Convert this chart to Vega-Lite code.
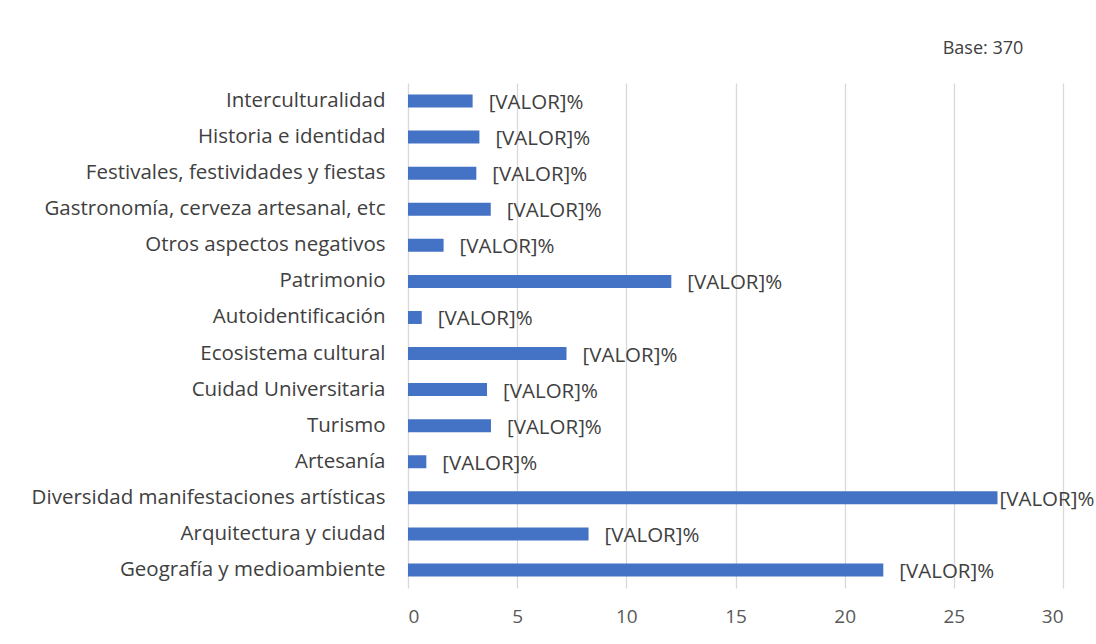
{
  "$schema": "https://vega.github.io/schema/vega-lite/v6.json",
  "autosize": "none",
  "padding": {"left": 408, "top": 83, "right": 33, "bottom": 56},
  "width": 655,
  "height": 505,
  "background": "white",
  "title": {"text": "Base: 370", "anchor": "end", "dx": -71, "offset": 25, "fontSize": 18, "fontWeight": "normal", "color": "#404040", "font": "Open Sans"},
  "data": {"values": [
    {"categoria": "Interculturalidad", "valor": 2.96, "etiqueta": "[VALOR]%"},
    {"categoria": "Historia e identidad", "valor": 3.27, "etiqueta": "[VALOR]%"},
    {"categoria": "Festivales, festividades y fiestas", "valor": 3.13, "etiqueta": "[VALOR]%"},
    {"categoria": "Gastronomía, cerveza artesanal, etc", "valor": 3.79, "etiqueta": "[VALOR]%"},
    {"categoria": "Otros aspectos negativos", "valor": 1.63, "etiqueta": "[VALOR]%"},
    {"categoria": "Patrimonio", "valor": 12.06, "etiqueta": "[VALOR]%"},
    {"categoria": "Autoidentificación", "valor": 0.63, "etiqueta": "[VALOR]%"},
    {"categoria": "Ecosistema cultural", "valor": 7.26, "etiqueta": "[VALOR]%"},
    {"categoria": "Cuidad Universitaria", "valor": 3.62, "etiqueta": "[VALOR]%"},
    {"categoria": "Turismo", "valor": 3.8, "etiqueta": "[VALOR]%"},
    {"categoria": "Artesanía", "valor": 0.84, "etiqueta": "[VALOR]%"},
    {"categoria": "Diversidad manifestaciones artísticas", "valor": 27.0, "etiqueta": "[VALOR]%"},
    {"categoria": "Arquitectura y ciudad", "valor": 8.27, "etiqueta": "[VALOR]%"},
    {"categoria": "Geografía y medioambiente ", "valor": 21.77, "etiqueta": "[VALOR]%"}
  ]},
  "encoding": {
    "y": {"field": "categoria", "type": "nominal", "sort": null,
      "scale": {"paddingInner": 0.64, "paddingOuter": 0.32},
      "axis": {"title": null, "domain": false, "ticks": false, "labelPadding": 23, "labelFontSize": 20.5, "labelFont": "Open Sans", "labelColor": "#404040", "labelLimit": 420}},
    "x": {"field": "valor", "type": "quantitative",
      "scale": {"domain": [0, 30], "nice": false},
      "axis": {"title": null, "values": [0, 5, 10, 15, 20, 25, 30], "domain": false, "ticks": false, "labelPadding": 19, "labelFontSize": 19, "labelFont": "Open Sans", "labelColor": "#595959", "grid": true, "gridColor": "#d9d9d9", "gridWidth": 1.3}}
  },
  "layer": [
    {"mark": {"type": "bar", "color": "#4472C4"}},
    {"transform": [{"filter": "datum.valor < 25"}],
     "mark": {"type": "text", "align": "left", "baseline": "middle", "dx": 16, "dy": 2, "fontSize": 20.5, "font": "Open Sans", "color": "#404040"},
     "encoding": {"text": {"field": "etiqueta"}}},
    {"transform": [{"filter": "datum.valor > 25"}],
     "mark": {"type": "text", "align": "left", "baseline": "middle", "dx": 2, "dy": 2, "fontSize": 20.5, "font": "Open Sans", "color": "#404040"},
     "encoding": {"text": {"field": "etiqueta"}}}
  ],
  "config": {"view": {"stroke": null}}
}
